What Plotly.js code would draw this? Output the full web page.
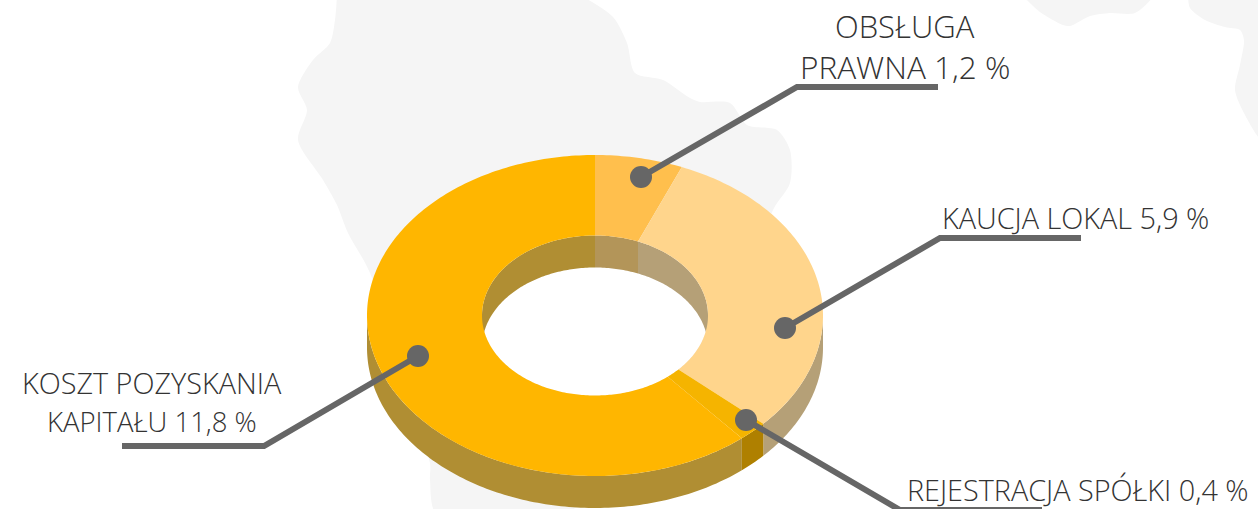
<!DOCTYPE html>
<html><head><meta charset="utf-8">
<script src="https://cdn.plot.ly/plotly-3.0.1.min.js"></script>
<style>html,body{margin:0;padding:0;background:#fff;overflow:hidden}</style>
</head><body><div id="chart" style="width:1258px;height:509px"></div>
<script>
// Slice data, clockwise from 12 o'clock
const categories = ["OBSŁUGA PRAWNA", "KAUCJA LOKAL", "REJESTRACJA SPÓŁKI", "KOSZT POZYSKANIA KAPITAŁU"];
const values = [1.2, 5.9, 0.4, 11.8];
const topColors = ["#FFBF4D", "#FFD58C", "#F5B400", "#FFB600"];
const outerWallColors = ["#B39559", "#B5A077", "#AF8000", "#B08E33"];
const innerWallColors = ["#B39559", "#B5A077", "#AF8000", "#B08E33"];

// Tilted ring geometry, in axis units
const cx = 595, cy = 315.5, rxOuter = 228, ryOuter = 160.5, rxInner = 113, ryInner = 80, depth = 32;

// Leader lines (axis units)
const leaderX = [[641, 797, 938], [785, 940, 1081], [746, 900, 1042], [418, 264, 122]];
const leaderY = [[177, 87, 87], [328, 238, 238], [420, 510, 510], [356, 446, 446]];

// Text lines
const labelLines = ["OBSŁUGA", "PRAWNA 1,2 %", "KAUCJA LOKAL 5,9 %", "REJESTRACJA SPÓŁKI 0,4 %", "KOSZT POZYSKANIA", "KAPITAŁU 11,8 %"];
const labelX = [904.5, 904.5, 1075.5, 1078, 151.5, 151.5];
const labelY = [26, 66, 217, 489, 382, 421];
const labelSizes = [31, 31.5, 28.8, 28.8, 28.8, 27.5];

// Pale background map outline (axis units)
const mapAX = [337, 335, 330, 313, 298, 307, 298, 323, 337, 348, 370, 430, 430, 437, 560, 700, 773, 790, 790, 777, 747, 730, 700, 690, 663, 635, 627, 613, 580];
const mapAY = [-5, 20, 43, 60, 87, 110, 140, 180, 205, 233, 273, 463, 480, 515, 515, 400, 210, 183, 150, 130, 125, 103, 102, 98, 80, 73, 43, 17, -5];
const mapBX = [1022, 1040, 1063, 1070, 1090, 1110, 1135, 1155];
const mapBY = [-5, 12, 25, 26, 16, 13, 13, -5];
const mapCX = [1188, 1190, 1205, 1225, 1240, 1244, 1240, 1235, 1245, 1262, 1262];
const mapCY = [-5, 8, 20, 27, 30, 40, 65, 90, 115, 140, -5];

const total = values.reduce((a, b) => a + b, 0);
let acc = 0;
const spans = values.map(v => { const s = [acc / total * 360, (acc + v) / total * 360]; acc += v; return s; });

function arc(a0, a1, rx, ry, dy) {
  const n = Math.max(2, Math.ceil(Math.abs(a1 - a0)));
  const xs = [], ys = [];
  for (let i = 0; i <= n; i++) {
    const t = (a0 + (a1 - a0) * i / n) * Math.PI / 180;
    xs.push(cx + rx * Math.sin(t));
    ys.push(cy - ry * Math.cos(t) + dy);
  }
  return [xs, ys];
}
function band(a0, a1, rx0, ry0, dy0, rx1, ry1, dy1, color, name) {
  const p = arc(a0, a1, rx0, ry0, dy0), q = arc(a1, a0, rx1, ry1, dy1);
  return { type: "scatter", mode: "none", fill: "toself", fillcolor: color, name: name,
    x: p[0].concat(q[0]), y: p[1].concat(q[1]), hoverinfo: "skip", showlegend: false };
}
function mapShape(x, y) {
  return { type: "scatter", mode: "lines", line: { shape: "spline", smoothing: 0.8, width: 0, color: "#F5F5F5" },
    fill: "toself", fillcolor: "#F5F5F5", x: x, y: y, hoverinfo: "skip", showlegend: false };
}

const traces = [mapShape(mapAX, mapAY), mapShape(mapBX, mapBY), mapShape(mapCX, mapCY)];

// Hole shows plain white
const hole = arc(0, 360, rxInner, ryInner, 0);
traces.push({ type: "scatter", mode: "none", fill: "toself", fillcolor: "#FFFFFF", x: hole[0], y: hole[1], hoverinfo: "skip", showlegend: false });

// Inner wall: the far half of the hole
spans.forEach((s, i) => {
  [[-90, 90], [270, 450]].forEach(w => {
    const a = Math.max(s[0], w[0]), b = Math.min(s[1], w[1]);
    if (b > a) traces.push(band(a, b, rxInner, ryInner, 0, rxInner, ryInner, depth, innerWallColors[i], categories[i]));
  });
});
// Outer wall: the near half of the ring
spans.forEach((s, i) => {
  const a = Math.max(s[0], 90), b = Math.min(s[1], 270);
  if (b > a) traces.push(band(a, b, rxOuter, ryOuter, 0, rxOuter, ryOuter, depth, outerWallColors[i], categories[i]));
});
// Top faces
spans.forEach((s, i) => traces.push(band(s[0], s[1], rxOuter, ryOuter, 0, rxInner, ryInner, 0, topColors[i], categories[i])));

// Leaders and their dots
leaderX.forEach((x, i) => {
  traces.push({ type: "scatter", mode: "lines", x: x, y: leaderY[i], line: { color: "#666666", width: 6 }, hoverinfo: "skip", showlegend: false });
  traces.push({ type: "scatter", mode: "markers", x: [x[0]], y: [leaderY[i][0]], marker: { color: "#666666", size: 22 }, hoverinfo: "skip", showlegend: false });
});

const annotations = labelLines.map((t, i) => ({
  text: t, x: labelX[i], y: labelY[i], xref: "x", yref: "y", showarrow: false, xanchor: "center", yanchor: "middle",
  font: { family: "'Open Sans', sans-serif", size: labelSizes[i], color: "#333333", weight: 300 }
}));

const hiddenAxis = { visible: false, fixedrange: true, showgrid: false, zeroline: false };
Plotly.newPlot("chart", traces, {
  width: 1258, height: 509, margin: { l: 0, r: 0, t: 0, b: 0 },
  paper_bgcolor: "#FFFFFF", plot_bgcolor: "#FFFFFF", showlegend: false,
  xaxis: Object.assign({ range: [0, 1258] }, hiddenAxis),
  yaxis: Object.assign({ range: [509, 0] }, hiddenAxis),
  annotations: annotations
}, { staticPlot: true, displayModeBar: false });
</script></body></html>
